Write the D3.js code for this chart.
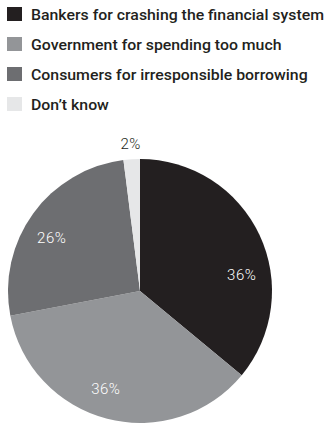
<!DOCTYPE html>
<html>
<head>
<meta charset="utf-8">
<script src="https://cdn.jsdelivr.net/npm/d3@7/dist/d3.min.js"></script>
<style>
  html, body { margin: 0; padding: 0; background: #ffffff; }
  svg { display: block; }
</style>
</head>
<body>
<svg id="chart" width="332" height="424"></svg>
<script>
// Who is to blame for the financial crisis? Share of responses.
const categories = [
  "Bankers for crashing the financial system",
  "Government for spending too much",
  "Consumers for irresponsible borrowing",
  "Don\u2019t know"
];
const values = [36, 36, 26, 2];
const colors = ["#231f20", "#939598", "#6d6e71", "#e6e7e8"];
// Small angular nudges (degrees) for the in-slice labels
const labelNudge = [16, 5, -5, 0];

const font = "Roboto, 'Noto Sans', sans-serif";
const svg = d3.select("#chart");

// ---- Legend ----
const legendRow = d3.scalePoint().domain(d3.range(categories.length)).range([7, 97]);
const legend = svg.append("g");
const items = legend.selectAll("g").data(categories).join("g")
  .attr("transform", (d, i) => `translate(7,${legendRow(i)})`);
items.append("rect").attr("width", 15).attr("height", 14)
  .attr("fill", (d, i) => colors[i]);
const legendText = items.append("text")
  .attr("x", 24).attr("y", 13)
  .attr("fill", "#231f20")
  .style("font-family", font)
  .style("font-weight", 500)
  .style("font-size", "15.5px")
  .text(d => d);
// stretch every entry by the same factor so the longest one spans the row
const stretch = 293 / legendText.nodes()[0].getComputedTextLength();
legendText.each(function () {
  d3.select(this)
    .attr("textLength", this.getComputedTextLength() * stretch)
    .attr("lengthAdjust", "spacingAndGlyphs");
});

// ---- Pie ----
const cx = 140, cy = 291, r = 132;
const pie = d3.pie().sort(null).value(d => d)(values);
const arc = d3.arc().innerRadius(0).outerRadius(r);
const g = svg.append("g").attr("transform", `translate(${cx},${cy})`);
g.selectAll("path").data(pie).join("path")
  .attr("d", arc)
  .attr("fill", (d, i) => colors[i]);

const lr = 103;
const outer = d3.arc().innerRadius(148).outerRadius(148);
g.selectAll("text.lbl").data(pie).join("text")
  .attr("class", "lbl")
  .attr("transform", (d, i) => {
    if (d.value < 5) return `translate(${outer.centroid(d)})`;
    const a = (d.startAngle + d.endAngle) / 2 + labelNudge[i] * Math.PI / 180;
    return `translate(${Math.sin(a) * lr},${-Math.cos(a) * lr})`;
  })
  .attr("text-anchor", "middle")
  .attr("dy", "0.36em")
  .attr("fill", d => d.value < 5 ? "#231f20" : "#ffffff")
  .style("font-family", font)
  .style("font-size", "15px")
  .style("font-weight", 300)
  .style("letter-spacing", "0.5px")
  .text(d => d.value + "%");
</script>
</body>
</html>
